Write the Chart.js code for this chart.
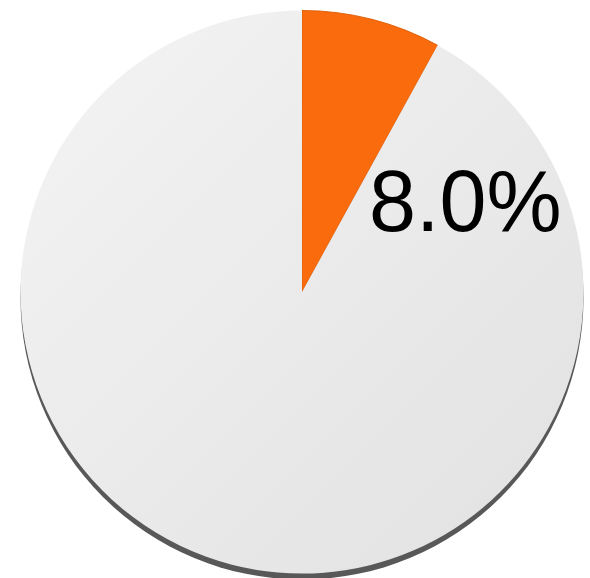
<!DOCTYPE html>
<html>
<head>
<meta charset="utf-8">
<script src="https://cdn.jsdelivr.net/npm/chart.js@4"></script>
<style>
  html, body { margin: 0; padding: 0; background: #fff; }
  #wrap { width: 590px; height: 578px; }
</style>
</head>
<body>
<div id="wrap"><canvas id="pieChart"></canvas></div>
<script>
const labels = ['占比', '其他'];
const values = [8.0, 92.0];
const shownLabel = '8.0%';

// shadow under the pie
const pieShadow = {
    id: 'pieShadow',
    beforeDatasetsDraw(chart) {
        const arc = chart.getDatasetMeta(0).data[0];
        if (!arc) return;
        const ctx = chart.ctx;
        ctx.save();
        ctx.beginPath();
        ctx.arc(arc.x, arc.y + 6, arc.outerRadius, 0, Math.PI * 2);
        ctx.fillStyle = '#585858';
        ctx.fill();
        ctx.restore();
    }
};

// big percentage label next to the small slice
const sliceLabel = {
    id: 'sliceLabel',
    afterDatasetsDraw(chart) {
        const arc = chart.getDatasetMeta(0).data[0];
        if (!arc) return;
        const ctx = chart.ctx;
        const r = arc.outerRadius;
        ctx.save();
        ctx.translate(arc.x + r * 0.58, arc.y - r * 0.215);
        ctx.scale(0.96, 1);
        ctx.font = '88px "Liberation Sans", Arial, sans-serif';
        ctx.fillStyle = '#000';
        ctx.textAlign = 'center';
        ctx.textBaseline = 'alphabetic';
        ctx.fillText(shownLabel, 0, 0);
        ctx.restore();
    }
};

function sliceFill(context) {
    if (context.dataIndex === 0) return '#f96b0c';
    const chart = context.chart;
    const area = chart.chartArea;
    if (!area) return '#ececec';
    const g = chart.ctx.createLinearGradient(area.left, area.top, area.right, area.bottom);
    g.addColorStop(0, '#f4f4f4');
    g.addColorStop(1, '#e1e1e1');
    return g;
}

const ctx1 = document.getElementById('pieChart').getContext('2d');
new Chart(ctx1, {
    type: 'pie',
    data: {
        labels: labels,
        datasets: [{
            data: values,
            backgroundColor: sliceFill,
            borderColor: ['#e0600a', 'rgba(0,0,0,0)'],
            borderWidth: [1, 0],
            hoverOffset: 0
        }]
    },
    options: {
        responsive: true,
        maintainAspectRatio: false,
        animation: false,
        layout: { padding: { left: 20, right: 6, top: 10, bottom: 4 } },
        plugins: {
            legend: { display: false },
            tooltip: { enabled: false }
        }
    },
    plugins: [pieShadow, sliceLabel]
});
</script>
</body>
</html>
